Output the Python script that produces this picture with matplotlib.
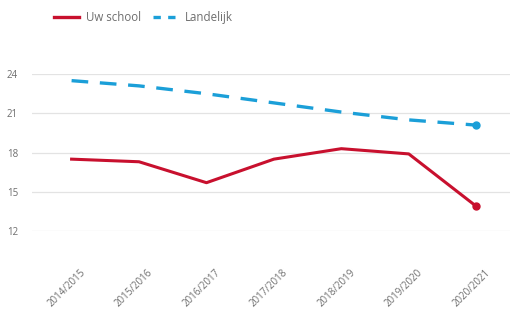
import matplotlib
import matplotlib.pyplot as plt
import matplotlib.transforms as mtransforms
from matplotlib.lines import Line2D

matplotlib.use('Agg')

years = ['2014/2015', '2015/2016', '2016/2017', '2017/2018',
         '2018/2019', '2019/2020', '2020/2021']
uw_school = [17.5, 17.3, 15.7, 17.5, 18.3, 17.9, 13.9]
landelijk = [23.5, 23.1, 22.5, 21.8, 21.1, 20.5, 20.1]
y_ticks = [12, 15, 18, 21, 24]

red = '#c8102e'
blue = '#1b9fd8'
grey_text = '#6e6e6e'

plt.rcParams['font.family'] = ['Open Sans', 'DejaVu Sans']

fig = plt.figure(figsize=(5.13, 3.14), dpi=100)
ax = fig.add_axes([0.062, 0.264, 0.932, 0.5])

x = list(range(len(years)))
ax.plot(x, landelijk, color=blue, linewidth=2.4, dashes=(5, 3.5), zorder=3)
ax.plot(x[-1], landelijk[-1], 'o', color=blue, markersize=5, zorder=4, clip_on=False)
ax.plot(x, uw_school, color=red, linewidth=2.2, zorder=3)
ax.plot(x[-1], uw_school[-1], 'o', color=red, markersize=5, zorder=4, clip_on=False)

ax.set_xlim(-0.59, 6.5)
ax.set_ylim(12, 24)
ax.set_yticks(y_ticks)
ax.set_xticks(x)
ax.set_xticklabels(years, rotation=45, ha='right', rotation_mode='anchor')
ax.tick_params(axis='both', length=0, labelcolor=grey_text)
ax.tick_params(axis='y', pad=10, labelsize=7)
ax.tick_params(axis='x', pad=26, labelsize=7)
# nudge the rotated year labels a little to the right
shift = mtransforms.ScaledTranslation(6 / 72, 0, fig.dpi_scale_trans)
for lbl in ax.get_xticklabels():
    lbl.set_transform(lbl.get_transform() + shift)
ax.grid(True, axis='y', color='#e3e3e3', linewidth=0.9)
ax.set_axisbelow(True)
for s in ax.spines.values():
    s.set_visible(False)

handles = [Line2D([0], [0], color=red, linewidth=2.4),
           Line2D([0], [0], color=blue, linewidth=2.4, dashes=(2.2, 2.2))]
fig.legend(handles, ['Uw school', 'Landelijk'], loc='center left',
           bbox_to_anchor=(0.085, 0.945), ncol=2, frameon=False,
           fontsize=8.3, labelcolor=grey_text, handlelength=2.2,
           columnspacing=1.0, handletextpad=0.6)

fig.savefig('out.png', dpi=100)
